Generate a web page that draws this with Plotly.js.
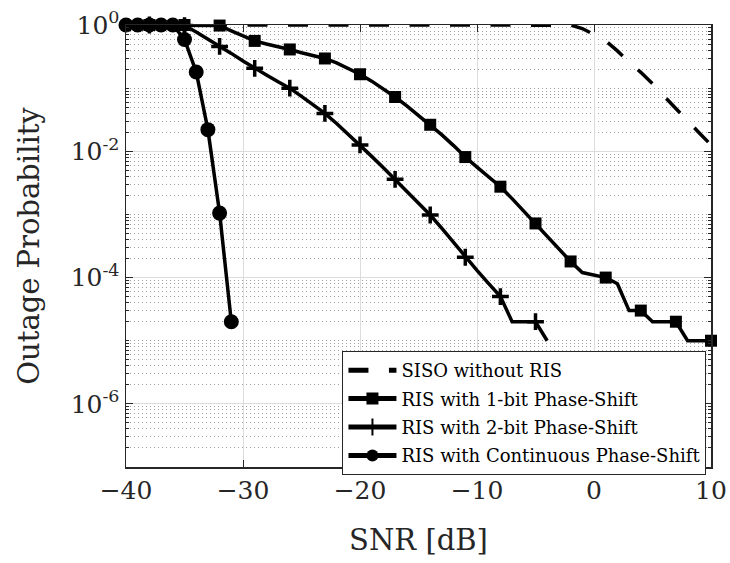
<!DOCTYPE html>
<html>
<head>
<meta charset="utf-8">
<script src="https://cdn.plot.ly/plotly-3.0.1.min.js"></script>
<style>html,body{margin:0;padding:0;background:#fff;}#chart{width:730px;height:563px;}</style>
</head>
<body>
<div id="chart"></div>
<script>
// ---- data ----
const snrSiso = [-40,-39,-38,-37,-36,-35,-34,-33,-32,-31,-30,-29,-28,-27,-26,-25,-24,-23,-22,-21,-20,-19,-18,-17,-16,-15,-14,-13,-12,-11,-10,-9,-8,-7,-6,-5,-4,-3,-2,-1,0,1,2,3,4,5,6,7,8,9,10];
const pSiso = [1,1,1,1,1,1,1,1,1,1,1,1,1,1,1,1,1,1,1,1,1,1,1,1,1,1,1,1,1,1,1,1,1,1,1,1,1,1,0.995,0.88,0.708,0.562,0.389,0.257,0.178,0.1175,0.0741,0.0468,0.0302,0.0195,0.0126];

const snr1bit = [-40,-39,-38,-37,-36,-35,-34,-33,-32,-31,-30,-29,-28,-27,-26,-25,-24,-23,-22,-21,-20,-19,-18,-17,-16,-15,-14,-13,-12,-11,-10,-9,-8,-7,-6,-5,-4,-3,-2,-1,0,1,2,3,4,5,6,7,8,9,10];
const p1bit = [1,1,1,1,1,1,1,1,0.98,0.81,0.68,0.56,0.50,0.457,0.41,0.363,0.324,0.295,0.251,0.204,0.166,0.129,0.0977,0.0724,0.0525,0.0372,0.0263,0.0182,0.0123,0.0081,0.0056,0.0039,0.00275,0.00178,0.00112,0.00072,0.00046,0.00028,0.00018,1.2e-4,1.1e-4,1.0e-4,8e-5,3e-5,3e-5,2e-5,2e-5,2e-5,1e-5,1e-5,1e-5];
const marked1bit = [-38,-35,-32,-29,-26,-23,-20,-17,-14,-11,-8,-5,-2,1,4,7,10];

const snr2bit = [-40,-39,-38,-37,-36,-35,-34,-33,-32,-31,-30,-29,-28,-27,-26,-25,-24,-23,-22,-21,-20,-19,-18,-17,-16,-15,-14,-13,-12,-11,-10,-9,-8,-7,-6,-5,-4];
const p2bit = [1,1,1,1,1,0.98,0.776,0.603,0.457,0.355,0.269,0.206,0.162,0.126,0.100,0.0741,0.055,0.0398,0.0275,0.0186,0.0126,0.0083,0.0055,0.0036,0.00234,0.00151,0.00098,0.0006,0.00036,2.1e-4,1.3e-4,8e-5,5e-5,2e-5,2e-5,2e-5,1e-5];
const marked2bit = [-38,-35,-32,-29,-26,-23,-20,-17,-14,-11,-8,-5];

const snrCont = [-40,-39,-38,-37,-36,-35,-34,-33,-32,-31];
const pCont = [1,1,1,1,1,0.59,0.18,0.022,1.05e-3,2e-5];

const seriesNames = ['SISO without RIS','RIS with 1-bit Phase-Shift','RIS with 2-bit Phase-Shift','RIS with Continuous Phase-Shift'];
const xTickVals = [-40,-30,-20,-10,0,10];
const yTickVals = [1,1e-2,1e-4,1e-6];
const yTickText = ['10<sup>0</sup>','10<sup>-2</sup>','10<sup>-4</sup>','10<sup>-6</sup>'];

// ---- drawing ----
const ink = '#000000';
const axisInk = '#262626';
const FONT = 'DejaVu Serif, serif';

const traces = [
  {x: snrSiso, y: pSiso, name: seriesNames[0], mode: 'lines', legendgroup: 'a',
   line: {color: ink, width: 3.5, dash: '20px,20.5px'}, cliponaxis: false},
  {x: snr1bit, y: p1bit, name: seriesNames[1], mode: 'lines+markers', legendgroup: 'b',
   line: {color: ink, width: 3.5},
   marker: {symbol: 'square', color: ink, opacity: 1, size: snr1bit.map(v => marked1bit.includes(v) ? 12 : 0), line: {width: 0}},
   cliponaxis: false},
  {x: snr2bit, y: p2bit, name: seriesNames[2], mode: 'lines+markers', legendgroup: 'c',
   line: {color: ink, width: 3.5},
   marker: {symbol: 'cross-thin', color: ink, opacity: 1, size: snr2bit.map(v => marked2bit.includes(v) ? 12 : 0), line: {width: 3.5, color: ink}},
   cliponaxis: false},
  {x: snrCont, y: pCont, name: seriesNames[3], mode: 'lines+markers', legendgroup: 'd',
   line: {color: ink, width: 3.5},
   marker: {symbol: 'circle', color: ink, opacity: 1, size: 15, line: {width: 0}},
   cliponaxis: false}
];

const layout = {
  width: 730, height: 563,
  margin: {l: 126, r: 19, t: 25, b: 96},
  paper_bgcolor: '#ffffff', plot_bgcolor: '#ffffff',
  font: {family: FONT, color: axisInk},
  showlegend: true,
  xaxis: {
    range: [-40, 10], tickmode: 'array', tickvals: xTickVals,
    showgrid: true, gridcolor: '#dcdcdc', gridwidth: 1,
    zeroline: false, showline: true, linecolor: axisInk, linewidth: 1.5, mirror: 'ticks',
    ticks: 'inside', ticklen: 7, tickcolor: axisInk, tickwidth: 1,
    tickfont: {family: FONT, size: 25, color: axisInk},
    title: {text: 'SNR [dB]', font: {family: FONT, size: 29, color: axisInk}, standoff: 26}
  },
  yaxis: {
    type: 'log', range: [-7, 0], tickmode: 'array', tickvals: yTickVals, ticktext: yTickText,
    showgrid: true, gridcolor: '#dcdcdc', gridwidth: 1,
    zeroline: false, showline: true, linecolor: axisInk, linewidth: 1.5, mirror: 'ticks',
    ticks: 'inside', ticklen: 7, tickcolor: axisInk, tickwidth: 1,
    tickfont: {family: FONT, size: 25, color: axisInk},
    minor: {dtick: 'D1', showgrid: true, griddash: '1px,3px', gridcolor: '#a0a0a0', gridwidth: 1,
            ticks: 'inside', ticklen: 3, tickcolor: axisInk},
    title: {text: 'Outage Probability', font: {family: FONT, size: 29, color: axisInk}, standoff: 22}
  },
  legend: {
    x: 0.37, y: 0.2624, xanchor: 'left', yanchor: 'top',
    bgcolor: '#ffffff', bordercolor: axisInk, borderwidth: 1,
    font: {family: FONT, size: 18, color: '#000'},
    itemsizing: 'constant', itemwidth: 48, tracegroupgap: 2, traceorder: 'grouped'
  }
};

Plotly.newPlot('chart', traces, layout, {displayModeBar: false, staticPlot: true});
</script>
</body>
</html>
